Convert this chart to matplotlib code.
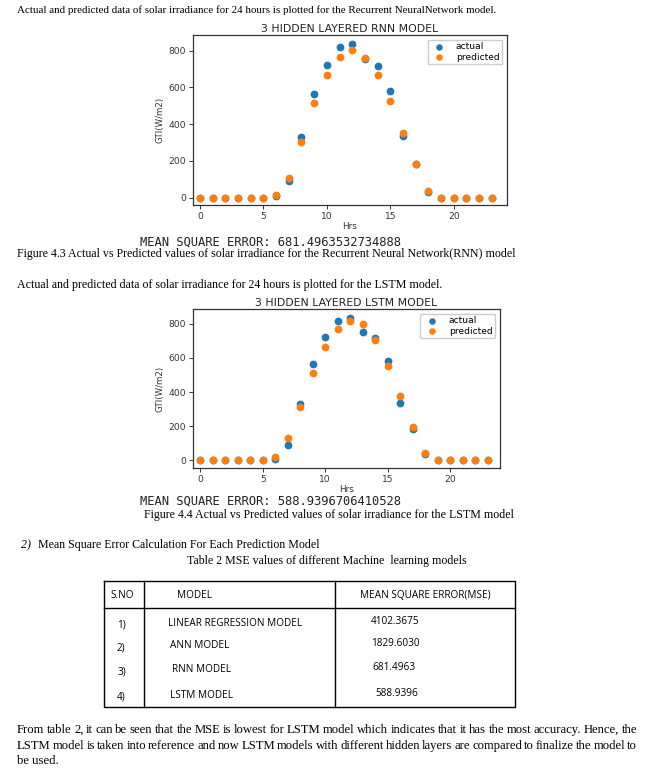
import matplotlib
matplotlib.use('Agg')
import matplotlib.pyplot as plt

W, H = 650, 774

hours = list(range(24))

rnn_actual = [0, 0, 0, 0, 0, 0, 10, 93, 332, 564, 722, 818, 835, 755, 717, 581,
              338, 185, 33, 0, 0, 0, 0, 0]
rnn_pred = [0, 0, 0, 0, 0, 0, 12, 105, 303, 514, 666, 768, 804, 760, 666, 526,
            354, 183, 34, 0, 0, 0, 0, 0]

lstm_actual = [0, 0, 0, 0, 0, 0, 10, 92, 332, 564, 720, 818, 831, 753, 714, 580,
               336, 185, 35, 0, 0, 0, 0, 0]
lstm_pred = [0, 0, 0, 0, 0, 0, 18, 131, 312, 513, 665, 769, 816, 796, 706, 554,
             375, 193, 41, 0, 0, 0, 0, 0]

sno = ['1)', '2)', '3)', '4)']
models = ['LINEAR REGRESSION MODEL', 'ANN MODEL', 'RNN MODEL', 'LSTM MODEL']
mse = ['4102.3675', '1829.6030', '681.4963', '588.9396']


def rect(l, t, r, b):
    return [l / W, 1 - b / H, (r - l) / W, (b - t) / H]


fig = plt.figure(figsize=(W / 100, H / 100), dpi=100)

# page layer for the document text and the table
page = fig.add_axes([0, 0, 1, 1])
page.set_xlim(0, W)
page.set_ylim(H, 0)
page.axis('off')

serif = 'Liberation Serif'
tsize = 8.6


def txt(x, y, s, **kw):
    kw.setdefault('family', serif)
    kw.setdefault('size', tsize)
    return page.text(x, y, s, va='center', **kw)


def justify(x0, x1, y, s, size):
    # spread the words of one line between x0 and x1
    words = [txt(x0, y, w, size=size) for w in s.split()]
    r = fig.canvas.get_renderer()
    widths = [w.get_window_extent(r).width for w in words]
    gap = (x1 - x0 - sum(widths)) / (len(words) - 1)
    x = x0
    for w, wd in zip(words, widths):
        w.set_x(x)
        x += wd + gap


txt(17, 10, 'Actual and predicted data of solar irradiance for 24 hours is plotted for the Recurrent NeuralNetwork model.', size=7.9)
txt(17, 254, 'Figure 4.3 Actual vs Predicted values of solar irradiance for the Recurrent Neural Network(RNN) model', size=8.6)
txt(17, 285, 'Actual and predicted data of solar irradiance for 24 hours is plotted for the LSTM model.')
txt(329, 515, 'Figure 4.4 Actual vs Predicted values of solar irradiance for the LSTM model', ha='center')
txt(21, 545, '2)', style='italic')
txt(38, 545, 'Mean Square Error Calculation For Each Prediction Model')
txt(327, 561, 'Table 2 MSE values of different Machine  learning models', ha='center')
justify(17, 637, 730, 'From table 2, it can be seen that the MSE is lowest for LSTM model which indicates that it has the most accuracy. Hence, the', 9.1)
justify(17, 637, 746, 'LSTM model is taken into reference and now LSTM models with different hidden layers are compared to finalize the model to', 9.1)
txt(17, 761, 'be used.', size=9.1)

mono = 'DejaVu Sans Mono'
txt(140, 242, 'MEAN SQUARE ERROR: 681.4963532734888', family=mono, size=8.7, color='#222222')
txt(140, 501, 'MEAN SQUARE ERROR: 588.9396706410528', family=mono, size=8.7, color='#222222')

# table
tl, tr, tt, tb = 104, 515, 581, 707
lw = 1.0
page.plot([tl, tr, tr, tl, tl], [tt, tt, tb, tb, tt], color='black', lw=lw)
page.plot([tl, tr], [608, 608], color='black', lw=lw)
page.plot([144, 144], [tt, tb], color='black', lw=lw)
page.plot([335, 335], [tt, tb], color='black', lw=lw)

tf = 'Open Sans'
ts = 7.2
txt(110, 596, 'S.NO', family=tf, size=ts)
txt(177, 595, 'MODEL', family=tf, size=ts)
txt(360, 595, 'MEAN SQUARE ERROR(MSE)', family=tf, size=ts)
row_y = [623, 646, 670, 695]
model_x = [168, 170, 172, 170]
mse_x = [371, 371, 372, 375]
for i in range(4):
    txt(117, row_y[i] + 2, sno[i], family=tf, size=ts)
    txt(model_x[i], row_y[i], models[i], family=tf, size=ts)
    txt(mse_x[i], row_y[i] - 2, mse[i], family=tf, size=ts)


def chart(box, title, actual, pred, xlim, ylim):
    ax = fig.add_axes(rect(*box))
    ax.scatter(hours, actual, s=21, color='#1f77b4', label='actual', zorder=3)
    ax.scatter(hours, pred, s=21, color='#ff7f0e', label='predicted', zorder=3)
    ax.set_xlim(*xlim)
    ax.set_ylim(*ylim)
    ax.set_xticks([0, 5, 10, 15, 20])
    ax.set_yticks([0, 200, 400, 600, 800])
    ax.tick_params(labelsize=6.6, length=3, width=0.7, pad=2, colors='#333333')
    for sp in ax.spines.values():
        sp.set_linewidth(0.9)
        sp.set_color('#333333')
    ax.set_title(title, fontsize=7.8, pad=2, color='#222222')
    ax.set_xlabel('Hrs', fontsize=6.4, labelpad=1, color='#333333')
    ax.set_ylabel('GTI(W/m2)', fontsize=6.2, labelpad=3, color='#333333')
    ax.legend(loc='upper right', fontsize=6.6, handletextpad=0.8, borderpad=0.3,
              labelspacing=0.15, markerscale=0.8, framealpha=1, edgecolor='#cccccc')
    return ax


chart((193, 35, 507, 205), '3 HIDDEN LAYERED RNN MODEL', rnn_actual, rnn_pred,
      (-0.55, 24.2), (-40, 885))
chart((193, 309, 500, 468), '3 HIDDEN LAYERED LSTM MODEL', lstm_actual, lstm_pred,
      (-0.58, 24.0), (-45, 886))

fig.savefig('out.png', dpi=100)
